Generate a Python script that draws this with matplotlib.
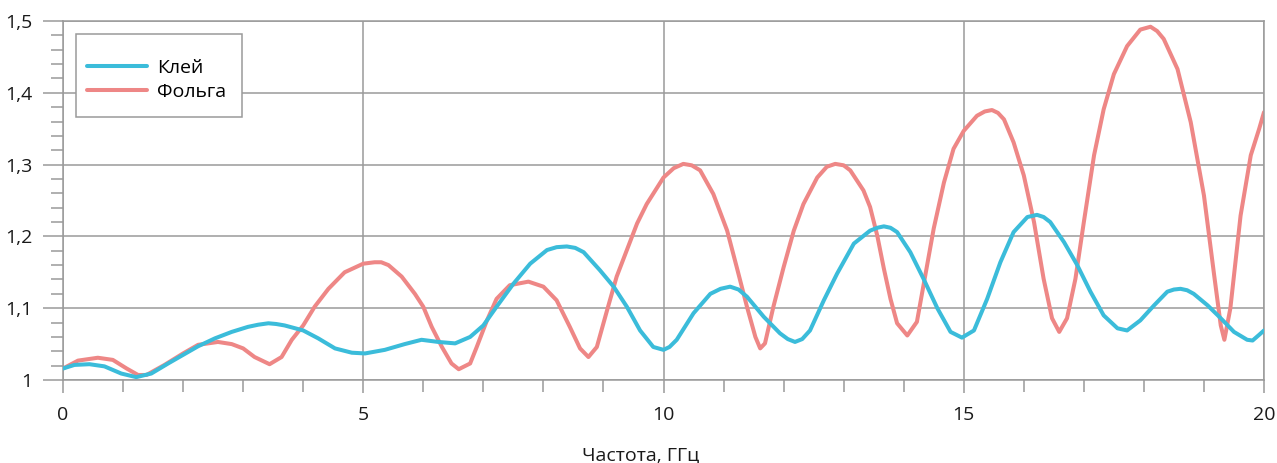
import matplotlib
import matplotlib.pyplot as plt
from matplotlib.patches import Rectangle
from matplotlib.ticker import FuncFormatter, MultipleLocator

matplotlib.use("Agg")

plt.rcParams["font.family"] = ["Open Sans", "DejaVu Sans"]

# Клей (glue)
glue_x = [0.0, 0.19, 0.44, 0.69, 0.97, 1.22, 1.47, 1.75, 2.0, 2.25, 2.53, 2.81,
          3.08, 3.25, 3.42, 3.55, 3.69, 4.0, 4.25, 4.53, 4.81, 5.03, 5.36,
          5.69, 5.97, 6.25, 6.53, 6.78, 7.0, 7.22, 7.5, 7.78, 8.06, 8.22,
          8.39, 8.53, 8.67, 8.94, 9.17, 9.39, 9.61, 9.83, 10.0, 10.1, 10.22,
          10.5, 10.78, 10.95, 11.11, 11.25, 11.39, 11.67, 11.94, 12.07, 12.19,
          12.31, 12.44, 12.67, 12.89, 13.17, 13.44, 13.56, 13.67, 13.78, 13.89,
          14.11, 14.33, 14.56, 14.78, 14.97, 15.17, 15.39, 15.61, 15.83, 16.06,
          16.22, 16.33, 16.44, 16.67, 16.89, 17.11, 17.33, 17.56, 17.72, 17.94,
          18.17, 18.39, 18.5, 18.61, 18.72, 18.83, 19.06, 19.28, 19.5, 19.72,
          19.81, 19.92, 20.0]
glue_y = [1.016, 1.021, 1.022, 1.019, 1.009, 1.004, 1.009, 1.023, 1.035, 1.047,
          1.058, 1.067, 1.074, 1.077, 1.079, 1.078, 1.076, 1.069, 1.058, 1.044,
          1.038, 1.037, 1.042, 1.050, 1.056, 1.053, 1.051, 1.060, 1.076, 1.102,
          1.134, 1.162, 1.181, 1.185, 1.186, 1.184, 1.178, 1.153, 1.130, 1.102,
          1.069, 1.046, 1.042, 1.046, 1.056, 1.093, 1.120, 1.127, 1.130, 1.126,
          1.116, 1.088, 1.065, 1.057, 1.053, 1.057, 1.069, 1.111, 1.148, 1.190,
          1.208, 1.212, 1.214, 1.212, 1.206, 1.178, 1.141, 1.100, 1.067, 1.059,
          1.069, 1.113, 1.164, 1.206, 1.227, 1.230, 1.227, 1.220, 1.192, 1.160,
          1.123, 1.090, 1.072, 1.069, 1.083, 1.104, 1.123, 1.126, 1.127, 1.125,
          1.120, 1.104, 1.086, 1.067, 1.056, 1.055, 1.063, 1.069]

# Фольга (foil)
foil_x = [0.0, 0.25, 0.58, 0.83, 1.06, 1.25, 1.39, 1.69, 2.0, 2.25, 2.58, 2.81,
          3.0, 3.19, 3.44, 3.64, 3.81, 4.0, 4.19, 4.42, 4.69, 5.0, 5.19, 5.3,
          5.42, 5.64, 5.86, 6.0, 6.14, 6.31, 6.47, 6.59, 6.78, 6.89, 7.06,
          7.22, 7.44, 7.75, 8.0, 8.22, 8.44, 8.61, 8.75, 8.89, 9.06, 9.22,
          9.39, 9.56, 9.72, 10.0, 10.17, 10.33, 10.47, 10.61, 10.83, 11.06,
          11.22, 11.39, 11.53, 11.61, 11.69, 11.83, 12.0, 12.17, 12.33, 12.56,
          12.72, 12.86, 13.0, 13.11, 13.33, 13.44, 13.56, 13.67, 13.78, 13.89,
          14.06, 14.22, 14.36, 14.5, 14.67, 14.83, 15.0, 15.22, 15.35, 15.47,
          15.57, 15.67, 15.83, 16.0, 16.17, 16.33, 16.47, 16.59, 16.72, 16.86,
          17.0, 17.17, 17.33, 17.5, 17.72, 17.94, 18.11, 18.22, 18.33, 18.56,
          18.78, 19.0, 19.17, 19.28, 19.34, 19.44, 19.61, 19.78, 19.92, 20.0]
foil_y = [1.016, 1.027, 1.031, 1.028, 1.016, 1.007, 1.007, 1.021, 1.037, 1.049,
          1.053, 1.050, 1.044, 1.032, 1.022, 1.032, 1.056, 1.076, 1.102, 1.127,
          1.150, 1.162, 1.164, 1.164, 1.160, 1.144, 1.120, 1.102, 1.074, 1.046,
          1.023, 1.015, 1.023, 1.046, 1.083, 1.113, 1.132, 1.137, 1.130, 1.111,
          1.074, 1.044, 1.032, 1.046, 1.097, 1.144, 1.181, 1.218, 1.245, 1.282,
          1.295, 1.301, 1.299, 1.292, 1.259, 1.208, 1.157, 1.102, 1.060, 1.044,
          1.051, 1.102, 1.157, 1.208, 1.245, 1.282, 1.297, 1.301, 1.299, 1.292,
          1.264, 1.241, 1.201, 1.155, 1.113, 1.079, 1.062, 1.081, 1.146, 1.211,
          1.275, 1.322, 1.347, 1.368, 1.374, 1.376, 1.372, 1.363, 1.331, 1.285,
          1.220, 1.141, 1.086, 1.067, 1.086, 1.141, 1.220, 1.313, 1.377, 1.426,
          1.465, 1.488, 1.492, 1.486, 1.475, 1.433, 1.359, 1.257, 1.146, 1.076,
          1.056, 1.100, 1.229, 1.313, 1.350, 1.373]

labels = ["Клей", "Фольга"]
colors = ["#3BBCDA", "#EE8786"]
grid_c = "#9A9A9A"
text_c = "#1a1a1a"
W, H = 1277, 463

fig = plt.figure(figsize=(W / 100, H / 100), dpi=100)
ax = fig.add_axes([63 / W, 1 - 380 / H, 1201 / W, 359 / H])

ax.plot(glue_x, glue_y, color=colors[0], lw=2.9, label=labels[0],
        solid_capstyle="round", solid_joinstyle="round", zorder=3)
ax.plot(foil_x, foil_y, color=colors[1], lw=2.9, label=labels[1],
        solid_capstyle="round", solid_joinstyle="round", zorder=2)

ax.set_xlim(0, 20)
ax.set_ylim(1, 1.5)
ax.xaxis.set_major_locator(MultipleLocator(5))
ax.xaxis.set_minor_locator(MultipleLocator(1))
ax.yaxis.set_major_locator(MultipleLocator(0.1))
ax.yaxis.set_minor_locator(MultipleLocator(0.02))
ax.yaxis.set_major_formatter(FuncFormatter(
    lambda v, p: "1" if abs(v - 1) < 1e-9 else f"{v:.1f}".replace(".", ",")))

ax.grid(which="major", color=grid_c, lw=1.1, zorder=1)
for s in ax.spines.values():
    s.set_color(grid_c)
    s.set_linewidth(1.1)

ax.tick_params(axis="x", which="major", length=9.5, width=1.1, color=grid_c,
               pad=9.5, labelsize=14, labelcolor=text_c)
ax.tick_params(axis="x", which="minor", length=8.5, width=1.1, color=grid_c)
ax.tick_params(axis="y", which="major", length=14.5, width=1.1, color=grid_c,
               pad=7.5, labelsize=14, labelcolor=text_c)
ax.tick_params(axis="y", which="minor", length=8.4, width=1.1, color=grid_c)

fig.text(641 / W, 1 - 460 / H, "Частота, ГГц", ha="center",
         va="baseline", fontsize=14, color=text_c)

# legend: frame drawn separately so its padding can follow the reference
ax.add_patch(Rectangle((76 / W, 1 - 117 / H), 166 / W, 83 / H,
                       transform=fig.transFigure, facecolor="white",
                       edgecolor=grid_c, lw=1.1, zorder=5, clip_on=False))
leg = ax.legend(loc="center left", bbox_to_anchor=(87 / W, 1 - 80.2 / H),
                bbox_transform=fig.transFigure, borderaxespad=0, borderpad=0,
                fontsize=14, frameon=False, handlelength=3.1,
                handletextpad=0.5, labelspacing=0.3)
leg.set_zorder(6)

fig.savefig("out.png", dpi=100)
